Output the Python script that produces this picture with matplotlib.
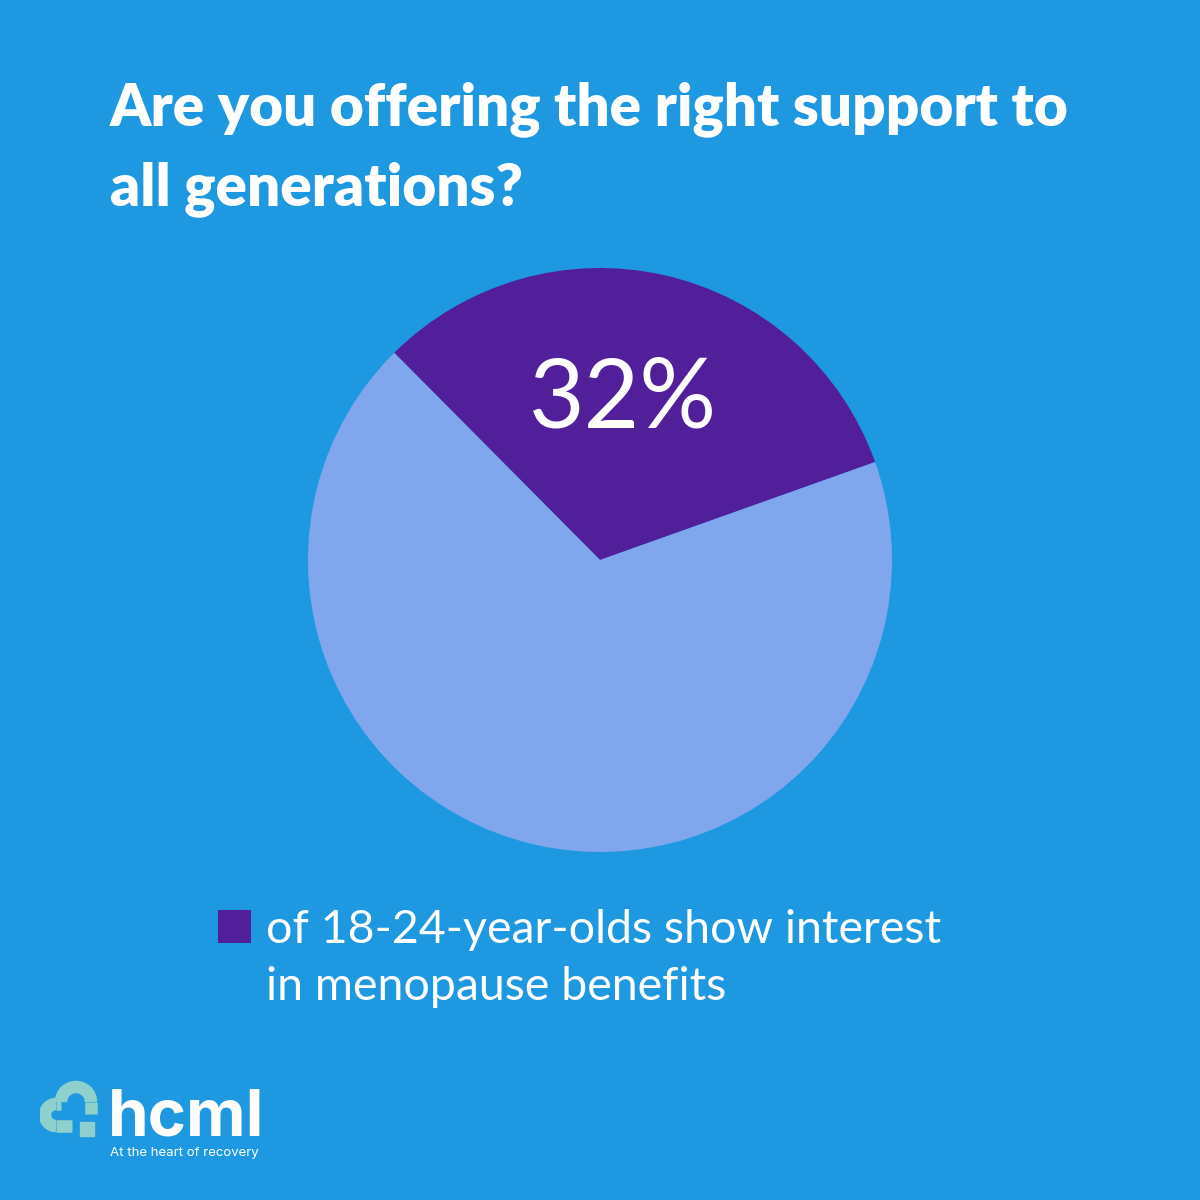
import matplotlib
matplotlib.use("Agg")
import matplotlib.pyplot as plt
from matplotlib.patches import Rectangle, Arc

title_lines = ["Are you offering the right support to", "all generations?"]
labels = ["18-24-year-olds interested", "Others"]
values = [32, 68]
pct_label = "32%"
legend_lines = ["of 18-24-year-olds show interest", "in menopause benefits"]
brand = "hcml"
tagline = "At the heart of recovery"

BG = "#1E98E0"
PURPLE = "#521F9B"
LIGHT = "#80A7EE"
TEAL = "#8ED0CB"

fig = plt.figure(figsize=(12, 12), dpi=100)
fig.patch.set_facecolor(BG)

W = H = 1200.0
def fx(x): return x / W
def fy(y): return 1 - y / H

# Title
fig.text(fx(110), fy(125), title_lines[0], color="white", fontsize=42, fontweight="heavy",
         family=["Lato", "DejaVu Sans"], va="baseline", ha="left")
fig.text(fx(110), fy(205), title_lines[1], color="white", fontsize=42, fontweight="heavy",
         family=["Lato", "DejaVu Sans"], va="baseline", ha="left")

# Pie
cx, cy, r = 600, 560, 292
ax = fig.add_axes([fx(cx - r), fy(cy + r), 2 * r / W, 2 * r / H])
ax.set_facecolor(BG)
wedges, _ = ax.pie(values, colors=[PURPLE, LIGHT], startangle=19.6, counterclock=True,
                   radius=1, wedgeprops=dict(linewidth=0))
ax.set_xlim(-1, 1)
ax.set_ylim(-1, 1)
ax.set_aspect("equal")
ax.axis("off")
ax.text(0.08, 0.545, pct_label, color="white", fontsize=69, ha="center", va="center",
        family=["Lato", "DejaVu Sans"])

# Legend
fig.patches.append(Rectangle((fx(218), fy(943)), 33 / W, 33 / H, transform=fig.transFigure,
                             facecolor=PURPLE, edgecolor="none"))
fig.text(fx(266), fy(943), legend_lines[0], color="white", fontsize=33.5,
         family=["Lato", "DejaVu Sans"], va="baseline", ha="left")
fig.text(fx(266), fy(1000), legend_lines[1], color="white", fontsize=33.5,
         family=["Lato", "DejaVu Sans"], va="baseline", ha="left")

# Logo icon (approximate)
lax = fig.add_axes([fx(40), fy(1140), 60 / W, 60 / H])
lax.set_xlim(0, 60)
lax.set_ylim(0, 60)
lax.axis("off")
lax.add_patch(Arc((36, 38), 30, 30, theta1=0, theta2=180, color=TEAL, lw=9))
lax.add_patch(Arc((16, 25), 22, 22, theta1=90, theta2=270, color=TEAL, lw=9))
lax.plot([51, 51], [38, 26], color=TEAL, lw=9, solid_capstyle="butt")
lax.plot([16, 32], [14, 14], color=TEAL, lw=9, solid_capstyle="butt")
lax.plot([16, 21], [36, 36], color=TEAL, lw=9, solid_capstyle="butt")
lax.add_patch(Rectangle((40, 4), 14, 14, color=TEAL))

fig.text(fx(108), fy(1136), brand, color="white", fontsize=47, fontweight="bold",
         family=["Inter", "DejaVu Sans"], va="baseline", ha="left")
fig.text(fx(110), fy(1156), tagline, color="white", fontsize=9.5,
         family=["Inter", "DejaVu Sans"], va="baseline", ha="left")

fig.savefig("out.png", dpi=100, facecolor=BG)
